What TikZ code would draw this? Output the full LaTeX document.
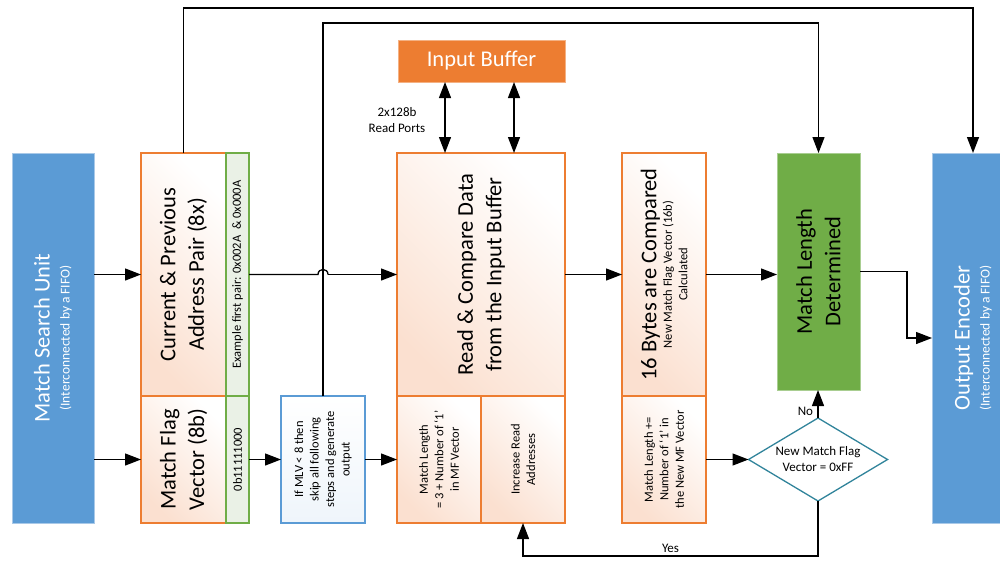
\documentclass[tikz,border=0pt]{standalone}
\usepackage{fontspec}
\setmainfont{Carlito}
\usepackage{tikz}
\usetikzlibrary{arrows.meta,positioning,calc,shapes.geometric}
\definecolor{mcblue}{HTML}{5B9BD5}
\definecolor{mcblueedge}{HTML}{A9C9E8}
\definecolor{mcorange}{HTML}{ED7D31}
\definecolor{mcgreen}{HTML}{70AD47}
\definecolor{mcteal}{HTML}{31849B}
\definecolor{mcpink}{HTML}{FBE0D0}
\definecolor{mcmint}{HTML}{EAF1E6}
\newcommand{\mcbig}{\fontsize{22.5}{28.5}\selectfont}
\newcommand{\mccap}{\fontsize{13.5}{16}\selectfont}
\newcommand{\mcmid}{\fontsize{13}{16}\selectfont}
\newcommand{\mcsmall}{\fontsize{12.5}{15.5}\selectfont}

\begin{document}
\begin{tikzpicture}[x=1pt,y=-1pt,
    every node/.style={inner sep=0pt,outer sep=0pt},
    arr/.style={line width=1.3pt,-{Triangle[length=16pt,width=12pt]}},
    darr/.style={line width=1.3pt,{Triangle[length=16pt,width=12pt]}-{Triangle[length=16pt,width=12pt]}},
    unitbox/.style={draw=mcblueedge,fill=mcblue,line width=0.8pt,anchor=north west},
    stagebox/.style={draw=mcorange,line width=1.3pt,anchor=north west,top color=white,bottom color=mcpink,shading angle=-45},
    notebox/.style={draw=mcgreen,line width=1.3pt,anchor=north west,fill=mcmint},
    vtext/.style={rotate=90,align=center}]
    \useasboundingbox (0,0) rectangle (1000,565);
    \node[unitbox,minimum width=82pt,minimum height=370pt] (msu) at (12,153) {};
    \node[vtext,text=white,font=\mccap] (msuT) at (msu.center) {{\mcbig Match Search Unit}\\[4pt](Interconnected by a FIFO)};
    \node[unitbox,minimum width=82pt,minimum height=370pt] (oe) at (932,153) {};
    \node[vtext,text=white,font=\mccap] (oeT) at (oe.center) {{\mcbig Output Encoder}\\[4pt](Interconnected by a FIFO)};
    \node[stagebox,minimum width=85pt,minimum height=243pt] (cp) at (141,153) {};
    \node[notebox,minimum width=23pt,minimum height=243pt] (cpx) at (cp.north east) {};
    \node[stagebox,minimum width=85pt,minimum height=127pt] (mfv) at (cp.south west) {};
    \node[notebox,minimum width=23pt,minimum height=127pt] (mfvx) at (mfv.north east) {};
    \node[vtext,font=\mcbig] (cpT) at (cp.center) {Current \& Previous\\Address Pair (8x)};
    \node[vtext,font=\mcsmall] (cpxT) at (cpx.center) {Example first pair: 0x002A\ \ \& 0x000A};
    \node[vtext,font=\mcbig] (mfvT) at (mfv.center) {Match Flag\\Vector (8b)};
    \node[vtext,font=\mcsmall] (mfvxT) at (mfvx.center) {0b11111000};
    \node[stagebox,draw=mcblue,bottom color=mcblue!10,minimum width=84pt,minimum height=127pt] (mlv) at (281,396) {};
    \node[vtext,font=\mcsmall] (mlvT) at (mlv.center) {If MLV < 8 then\\skip all following\\steps and generate\\output};
    \node[stagebox,minimum width=168pt,minimum height=243pt] (rc) at (397,153) {};
    \node[stagebox,minimum width=84pt,minimum height=127pt] (ml3) at (rc.south west) {};
    \node[stagebox,minimum width=84pt,minimum height=127pt] (ira) at (ml3.north east) {};
    \node[vtext,font=\mcbig] (rcT) at (rc.center) {Read \& Compare Data\\from the Input Buffer};
    \node[vtext,font=\mcsmall] (ml3T) at (ml3.center) {Match Length\\= 3 + Number of `1'\\in MF Vector};
    \node[vtext,font=\mcsmall] (iraT) at (ira.center) {Increase Read\\Addresses};
    \node[unitbox,fill=mcorange,draw=mcorange!60,minimum width=167pt,minimum height=42pt,text=white,font=\mcbig] (ib) at (398,40) {Input Buffer};
    \node[font=\mcmid,align=center] (rp) at (397,120) {2x128b\\Read Ports};
    \node[stagebox,minimum width=84pt,minimum height=243pt] (bc) at (622,153) {};
    \node[stagebox,minimum width=84pt,minimum height=127pt] (mlp) at (bc.south west) {};
    \node[vtext,font=\mcsmall] (bcT) at (bc.center) {{\mcbig 16 Bytes are Compared}\\New Match Flag Vector (16b)\\Calculated};
    \node[vtext,font=\mcsmall] (mlpT) at (mlp.center) {Match Length +=\\Number of `1' in\\the New MF Vector};
    \node[unitbox,fill=mcgreen,draw=mcgreen!60,minimum width=83pt,minimum height=237pt] (mld) at (777,153) {};
    \node[vtext,font=\mcbig] (mldT) at (mld.center) {Match Length\\Determined};
    \node[diamond,aspect=1.67,draw=mcteal,line width=1.3pt,fill=white,minimum width=139pt,minimum height=83pt,font=\mcmid,align=center] (dia) at (818,459.5) {New Match Flag\\Vector = 0xFF};

    \coordinate (topA) at (500,8);
    \coordinate (topB) at (500,23);
    \coordinate (jmp) at (mlv.north |- cpx.east);
    \draw[arr] (msu.east |- cp.west) -- (cp.west);
    \draw[arr] (msu.east |- mfv.west) -- (mfv.west);
    \draw[arr] (cp.north) |- (topA) -| (oe.north);
    \draw[arr] (mlv.north) |- (topB) -| (mld.north);
    \draw[line width=1.3pt] (cpx.east) -- ($(jmp)+(-5,0)$) .. controls +(0,-6.7) and +(0,-6.7) .. ($(jmp)+(5,0)$);
    \draw[arr] ($(jmp)+(5,0)$) -- (rc.west);
    \draw[darr] ($(ib.south west)+(47,0)$) -- ($(ib.south west |- rc.north)+(47,0)$);
    \draw[darr] ($(ib.south east)+(-51,0)$) -- ($(ib.south east |- rc.north)+(-51,0)$);
    \draw[arr] (rc.east) -- (bc.west);
    \draw[arr] (bc.east) -- (bc.east -| mld.west);
    \draw[arr] (mld.east) -- ++(47,0) |- (oe.west);
    \draw[arr] (mfvx.east) -- (mlv.west);
    \draw[arr] (mlv.east) -- (ml3.west);
    \draw[arr] (mlp.east) -- (dia.west);
    \draw[arr] (dia.north) -- (dia.north |- mld.south) node[pos=0.25,left=5pt,font=\mcmid] (no) {No};
    \draw[arr] (dia.south) -- ++(0,55) -| (ira.south) node[pos=0.25,above=3pt,font=\mcmid] (yes) {Yes};
\end{tikzpicture}
\end{document}
